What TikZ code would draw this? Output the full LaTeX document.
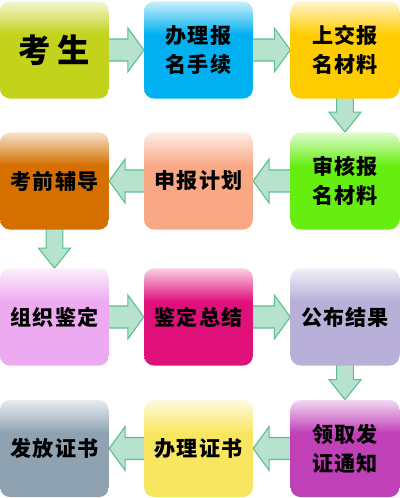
\documentclass[tikz,border=0pt]{standalone}
\usepackage{fontspec}
\newfontfamily\cjk{Noto Sans CJK SC}[LetterSpace=5]
\usetikzlibrary{calc,backgrounds}
\definecolor{arrowgreen}{HTML}{5FBF8F}
\colorlet{boxtop}{white}
\colorlet{boxbot}{gray}
\pgfdeclareverticalshading[boxtop,boxbot]{boxfade}{100bp}{color(0bp)=(boxbot); color(58bp)=(boxbot); color(75bp)=(boxtop); color(100bp)=(boxtop)}
\def\blockarrow#1#2#3#4#5#6{%
	\path ($(#2)!-1mm!(#3)$) coordinate (ta) (#3) coordinate (tb) ($(tb)!#6!(ta)$) coordinate (tq);
	\draw[#1] ($(ta)!#4!90:(tb)$) -- ($(tq)!#4!90:(tb)$) -- ($(tq)!#5!90:(tb)$) -- (tb)
		-- ($(tq)!#5!-90:(tb)$) -- ($(tq)!#4!-90:(tb)$) -- ($(ta)!#4!-90:(tb)$) -- cycle;}
\def\hflow#1#2{\blockarrow{harrow}{#1}{#2}{0.275cm}{0.55cm}{0.4cm}}
\def\vflow#1#2{\blockarrow{varrow}{#1}{#2}{0.21cm}{0.4cm}{0.5cm}}
\tikzset{
	stepbox/.style={rounded corners=0.25cm, minimum width=2.72cm, minimum height=2.43cm,
		align=center, inner sep=0pt, font=\cjk\bfseries\fontsize{15}{20.5}\selectfont,
		/utils/exec={\colorlet{boxtop}{#1!20!white}\colorlet{boxbot}{#1}}, shading=boxfade},
	harrow/.style={draw=arrowgreen, line width=0.8pt, line join=miter,
		top color=arrowgreen!45!white, middle color=white, bottom color=arrowgreen!45!white},
	varrow/.style={draw=arrowgreen, line width=0.8pt, line join=miter,
		left color=arrowgreen!45!white, middle color=white, right color=arrowgreen!45!white}
}
\definecolor{cksheng}{HTML}{C3D21A}
\definecolor{cbanli}{HTML}{00B0F0}
\definecolor{cshangjiao}{HTML}{FFCC00}
\definecolor{cshenhe}{HTML}{66EE11}
\definecolor{cshenbao}{HTML}{F9A886}
\definecolor{cfudao}{HTML}{D46F00}
\definecolor{czuzhi}{HTML}{EEAAF0}
\definecolor{czongjie}{HTML}{E0107A}
\definecolor{cgongbu}{HTML}{B8B0D8}
\definecolor{clingqu}{HTML}{C040B8}
\definecolor{cbanzheng}{HTML}{F8E660}
\definecolor{cfafang}{HTML}{8EA2B2}
\begin{document}
\begin{tikzpicture}
	%%%%% START %%%%%
	
	\useasboundingbox (0, 0) rectangle (10, -12.45);
	
	\node[stepbox=cksheng, font=\cjk\bfseries\fontsize{23}{26}\selectfont] (kaosheng) at (1.3625, -1.25) {考\hspace{0.2em}生};
	\node[stepbox=cbanli] (banli) at (4.9625, -1.25) {办理报\\名手续};
	\node[stepbox=cshangjiao] (shangjiao) at (8.625, -1.25) {上交报\\名材料};
	
	\node[stepbox=cshenhe] (shenhe) at (8.625, -4.525) {审核报\\名材料};
	\node[stepbox=cshenbao] (shenbao) at (4.9625, -4.525) {申报计划};
	\node[stepbox=cfudao] (fudao) at (1.3625, -4.525) {考前辅导};
	
	\node[stepbox=czuzhi] (zuzhi) at (1.3625, -7.925) {组织鉴定};
	\node[stepbox=czongjie] (zongjie) at (4.9625, -7.925) {鉴定总结};
	\node[stepbox=cgongbu] (gongbu) at (8.625, -7.925) {公布结果};
	
	\node[stepbox=clingqu] (lingqu) at (8.625, -11.2125) {领取发\\证通知};
	\node[stepbox=cbanzheng] (banzheng) at (4.9625, -11.2125) {办理证书};
	\node[stepbox=cfafang] (fafang) at (1.3625, -11.2125) {发放证书};
	
	\begin{scope}[on background layer]
		\hflow{kaosheng.east}{banli.west}
		\hflow{banli.east}{shangjiao.west}
		\vflow{shangjiao.south}{shenhe.north}
		\hflow{shenhe.west}{shenbao.east}
		\hflow{shenbao.west}{fudao.east}
		\vflow{fudao.south}{zuzhi.north}
		\hflow{zuzhi.east}{zongjie.west}
		\hflow{zongjie.east}{gongbu.west}
		\vflow{gongbu.south}{lingqu.north}
		\hflow{lingqu.west}{banzheng.east}
		\hflow{banzheng.west}{fafang.east}
	\end{scope}
	
	%%%%% END %%%%%
\end{tikzpicture}
\end{document}
